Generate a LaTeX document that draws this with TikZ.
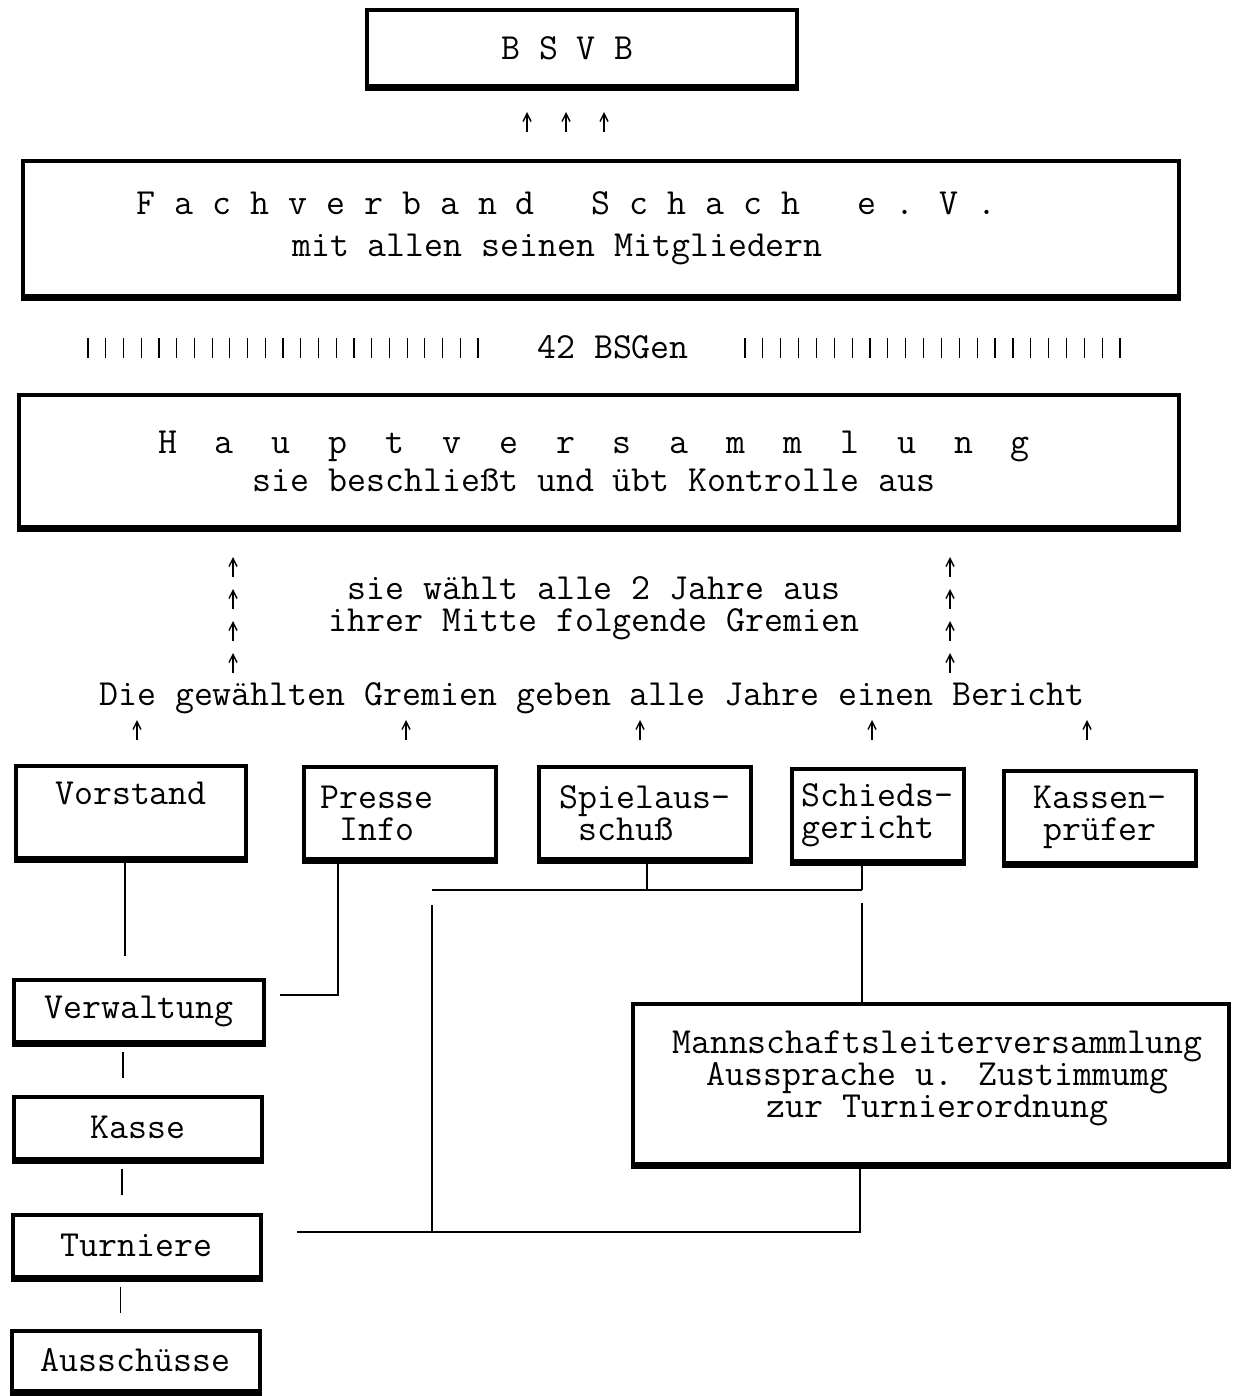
\documentclass[tikz,border=0pt]{standalone}
\usepackage{fontspec}
\usetikzlibrary{arrows.meta}
\begin{document}
\begin{tikzpicture}[x=0.5pt,y=-0.5pt,
  every node/.style={font=\ttfamily\fontsize{18.4}{16}\selectfont, inner sep=0pt},
  box/.style={draw, line width=2pt, align=center},
  conn/.style={line width=0.8pt},
  arr/.style={line width=0.7pt, -{Straight Barb[length=4pt,width=4pt]}},
  bar/.style={line width=0.6pt}]
\useasboundingbox (0,0) rectangle (1235,1396);

% boxes
\node[box, minimum width=215pt, minimum height=38pt] (bsvb) at (581.5,48) {B S V B\hspace*{14pt}};
\node[box, minimum width=578pt, minimum height=67pt] (fach) at (600.5,228.5)
  {F a c h v e r b a n d~~~S c h a c h~~~e . V .\hspace*{34pt}\\[5pt]mit allen seinen Mitgliedern\hspace*{43pt}};
\node[box, minimum width=580pt, minimum height=66pt] (haupt) at (599,461)
  {H~~a~~u~~p~~t~~v~~e~~r~~s~~a~~m~~m~~l~~u~~n~~g\hspace*{5pt}\\[3pt]sie beschließt und übt Kontrolle aus\hspace*{5pt}};
\node[box, minimum width=115pt, minimum height=46pt] (vorstand) at (131,812) {Vorstand\\[3pt]\mbox{}};
\node[box, minimum width=96pt, minimum height=46pt] (presse) at (400,813) {Presse\hspace*{23pt}\\Info\hspace*{23pt}};
\node[box, minimum width=106pt, minimum height=46pt, align=left] (spiel) at (645,813) {Spielaus-\\~schuß};
\node[box, minimum width=86pt, minimum height=46pt, align=left] (schied) at (877.5,815) {Schieds-\\gericht};
\node[box, minimum width=96pt, minimum height=46pt] (kassenp) at (1100,817) {Kassen-\\prüfer};
\node[box, minimum width=125pt, minimum height=31pt] (verw) at (139,1011) {Verwaltung};
\node[box, minimum width=124pt, minimum height=31pt] (kasse) at (138,1127.5) {Kasse};
\node[box, minimum width=124pt, minimum height=31pt] (turn) at (136.5,1245.5) {Turniere};
\node[box, minimum width=124pt, minimum height=30pt] (aussch) at (135.5,1360.5) {Ausschüsse};
\node[box, minimum width=298pt, minimum height=80pt] (mann) at (930.5,1083.5)
  {\hspace*{7pt}Mannschaftsleiterversammlung\\\hspace*{7pt}Aussprache u. Zustimmumg\\\hspace*{7pt}zur Turnierordnung\rule[-9pt]{0pt}{0pt}};

% heavier bottom edges
\foreach \n in {bsvb,fach,haupt,vorstand,presse,spiel,schied,kassenp,verw,kasse,turn,aussch,mann}
  \draw[line width=3pt] (\n.south west) -- (\n.south east);

% free texts
\node (bsg) at (613,347) {42 BSGen};
\node[align=center] (waehlt) at (594,608) {sie wählt alle 2 Jahre aus\\ihrer Mitte folgende Gremien};
\node (bericht) at (592,698) {Die gewählten Gremien geben alle Jahre einen Bericht};

% bars
\foreach \i in {0,...,22} \draw[bar] ({88+\i*17.73},338) -- ++(0,20);
\foreach \i in {0,...,21} \draw[bar] ({745+\i*17.86},338) -- ++(0,20);

% small arrows
\foreach \x in {527,566,604} \draw[arr] (\x,132) -- (\x,112);
\foreach \y in {567,599,631,663} {
  \draw[arr] (233,\y+10) -- (233,\y-10);
  \draw[arr] (950,\y+10) -- (950,\y-10);
}
\foreach \x in {137,406,640,872,1087} \draw[arr] (\x,740) -- (\x,720);

% connectors
\draw[conn] ([xshift=-3pt]vorstand.south) -- ++(0,96);
\coordinate (pv) at (280,995);
\draw[conn] ([xshift=-31pt]presse.south) |- (pv);
\coordinate (hl) at (432,890);
\draw[conn] ([xshift=1pt]spiel.south) -- ([xshift=1pt]spiel.south |- hl);
\draw[conn] ([xshift=-7.75pt]schied.south) -- ([xshift=-7.75pt]schied.south |- hl);
\draw[conn] (hl) -- ([xshift=-7.75pt]schied.south |- hl);
\coordinate (sg) at (862,903);
\draw[conn] (sg) -- (sg |- mann.north);
\coordinate (lv) at (432,905);
\coordinate (bl) at (297,1232);
\draw[conn] (lv) -- (lv |- bl);
\draw[conn] (bl) -| ([xshift=-35.25pt]mann.south);

% vertical links in left column
\draw[conn] ([xshift=-8pt,yshift=-4pt]verw.south) -- ++(0,26);
\draw[conn] ([xshift=-8pt,yshift=-4pt]kasse.south) -- ++(0,26);
\draw[conn] ([xshift=-8pt,yshift=-4pt]turn.south) -- ++(0,26);
\end{tikzpicture}
\end{document}
